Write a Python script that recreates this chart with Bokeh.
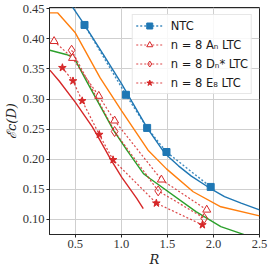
from bokeh.plotting import figure
from bokeh.models import FixedTicker, Legend, LegendItem
from bokeh.embed import file_html
from bokeh.resources import INLINE

# ---- data ----
ntc_R = [0.60, 1.05, 1.28, 1.49, 1.97]
ntc_D = [0.423, 0.307, 0.252, 0.212, 0.154]

an_R = [0.27, 0.47, 0.755, 0.927, 1.435, 1.927]
an_D = [0.396, 0.368, 0.305, 0.264, 0.166, 0.116]

dn_R = [0.46, 0.927, 1.40, 1.90]
dn_D = [0.381, 0.246, 0.1475, 0.102]

e8_R = [0.36, 0.475, 0.575, 0.76, 0.91, 1.38, 1.88]
e8_D = [0.352, 0.330, 0.297, 0.241, 0.199, 0.127, 0.091]

blue_R = [0.46, 0.60, 0.80, 1.00, 1.28, 1.47, 1.62, 1.76, 1.95, 2.12, 2.30, 2.50]
blue_D = [0.455, 0.423, 0.375, 0.326, 0.252, 0.210, 0.189, 0.172, 0.153, 0.138, 0.127, 0.116]

orange_R = [0.22, 0.31, 0.50, 0.77, 1.005, 1.29, 1.49, 1.78, 2.08, 2.50]
orange_D = [0.443, 0.443, 0.410, 0.335, 0.280, 0.215, 0.184, 0.146, 0.121, 0.106]

green_R = [0.224, 0.40, 0.486, 0.61, 0.916, 1.06, 1.24, 1.31, 1.81, 2.08, 2.35]
green_D = [0.381, 0.374, 0.369, 0.333, 0.248, 0.215, 0.176, 0.168, 0.113, 0.088, 0.074]

red_R = [0.224, 0.325, 0.503, 0.683, 0.737, 0.88, 1.005, 1.167, 1.238]
red_D = [0.348, 0.330, 0.294, 0.254, 0.240, 0.201, 0.170, 0.135, 0.118]

x_ticks = [0.5, 1.0, 1.5, 2.0, 2.5]
x_tick_labels = ["0.5", "1.0", "1.5", "2.0", "2.5"]
y_ticks = [0.10, 0.15, 0.20, 0.25, 0.30, 0.35, 0.40, 0.45]
y_tick_labels = ["0.10", "0.15", "0.20", "0.25", "0.30", "0.35", "0.40", "0.45"]

labels = ["NTC", "n = 8 Aₙ LTC", "n = 8 Dₙ* LTC", "n = 8 E₈ LTC"]

BLUE = "#1f77b4"
ORANGE = "#ff7f0e"
GREEN = "#2ca02c"
RED = "#d62728"

p = figure(width=270, height=270, x_range=(0.22, 2.5), y_range=(0.075, 0.452),
           output_backend="svg", toolbar_location=None,
           min_border_left=47, min_border_right=11, min_border_top=7, min_border_bottom=36)
p.styles = {"position": "absolute", "top": "0px", "left": "0px"}

p.outline_line_color = "#262626"
p.outline_line_width = 1
p.background_fill_color = "white"
p.border_fill_color = "white"

for ax in (p.xaxis[0], p.yaxis[0]):
    ax.axis_line_color = "#262626"
    ax.major_tick_line_color = "#262626"
    ax.major_tick_out = 3
    ax.major_tick_in = 0
    ax.minor_tick_line_color = None
    ax.major_label_text_font = "Liberation Serif"
    ax.major_label_text_font_size = "12.5px"
    ax.major_label_text_color = "#333333"
    ax.major_label_standoff = 2
    ax.axis_label_text_font = "DejaVu Serif"
    ax.axis_label_text_font_style = "italic"
    ax.axis_label_text_color = "#262626"
    ax.axis_label_standoff = 1

p.xaxis.ticker = FixedTicker(ticks=x_ticks)
p.yaxis.ticker = FixedTicker(ticks=y_ticks)
p.xaxis.major_label_overrides = dict(zip(x_ticks, x_tick_labels))
p.yaxis.major_label_overrides = dict(zip(y_ticks, y_tick_labels))
p.xaxis.axis_label = "R"
p.yaxis.axis_label = "ℰc(D)"
p.xaxis.axis_label_text_font_size = "13px"
p.yaxis.axis_label_text_font_size = "13px"

p.xgrid.grid_line_color = "#cfcfcf"
p.ygrid.grid_line_color = "#cfcfcf"
p.xgrid.grid_line_width = 1
p.ygrid.grid_line_width = 1

# solid curves
p.line(blue_R, blue_D, color=BLUE, line_width=1.4)
p.line(orange_R, orange_D, color=ORANGE, line_width=1.4)
p.line(green_R, green_D, color=GREEN, line_width=1.4)
p.line(red_R, red_D, color=RED, line_width=1.4)

# dotted series with markers
l1 = p.line(ntc_R, ntc_D, color=BLUE, line_width=1.4, line_dash="2 2", line_alpha=0.85)
m1 = p.scatter(ntc_R, ntc_D, marker="square", size=7, color=BLUE)

l2 = p.line(an_R, an_D, color=RED, line_width=1.2, line_dash="2 2", line_alpha=0.85)
m2 = p.scatter(an_R, an_D, marker="triangle", size=8, line_color=RED, fill_color="white", line_width=1)

l3 = p.line(dn_R, dn_D, color=RED, line_width=1.2, line_dash="2 2", line_alpha=0.85)
m3 = p.scatter(dn_R, dn_D, marker="diamond", size=10, line_color=RED, fill_alpha=0, line_width=1)

l4 = p.line(e8_R, e8_D, color=RED, line_width=1.2, line_dash="2 2", line_alpha=0.85)
m4 = p.scatter(e8_R, e8_D, marker="star", size=8, color=RED)

legend = Legend(items=[
    LegendItem(label=labels[0], renderers=[l1, m1]),
    LegendItem(label=labels[1], renderers=[l2, m2]),
    LegendItem(label=labels[2], renderers=[l3, m3]),
    LegendItem(label=labels[3], renderers=[l4, m4]),
], location="top_right")
legend.margin = 7
legend.padding = 3
legend.spacing = 4
legend.glyph_height = 15
legend.label_height = 15
legend.glyph_width = 27
legend.label_standoff = 8
legend.label_text_font = "DejaVu Sans"
legend.label_text_font_size = "11.5px"
legend.label_text_color = "#1a1a1a"
legend.border_line_color = "#d0d0d0"
legend.border_line_width = 1
legend.background_fill_alpha = 0.85
p.add_layout(legend)

open("out.html", "w").write(file_html(p, INLINE))
